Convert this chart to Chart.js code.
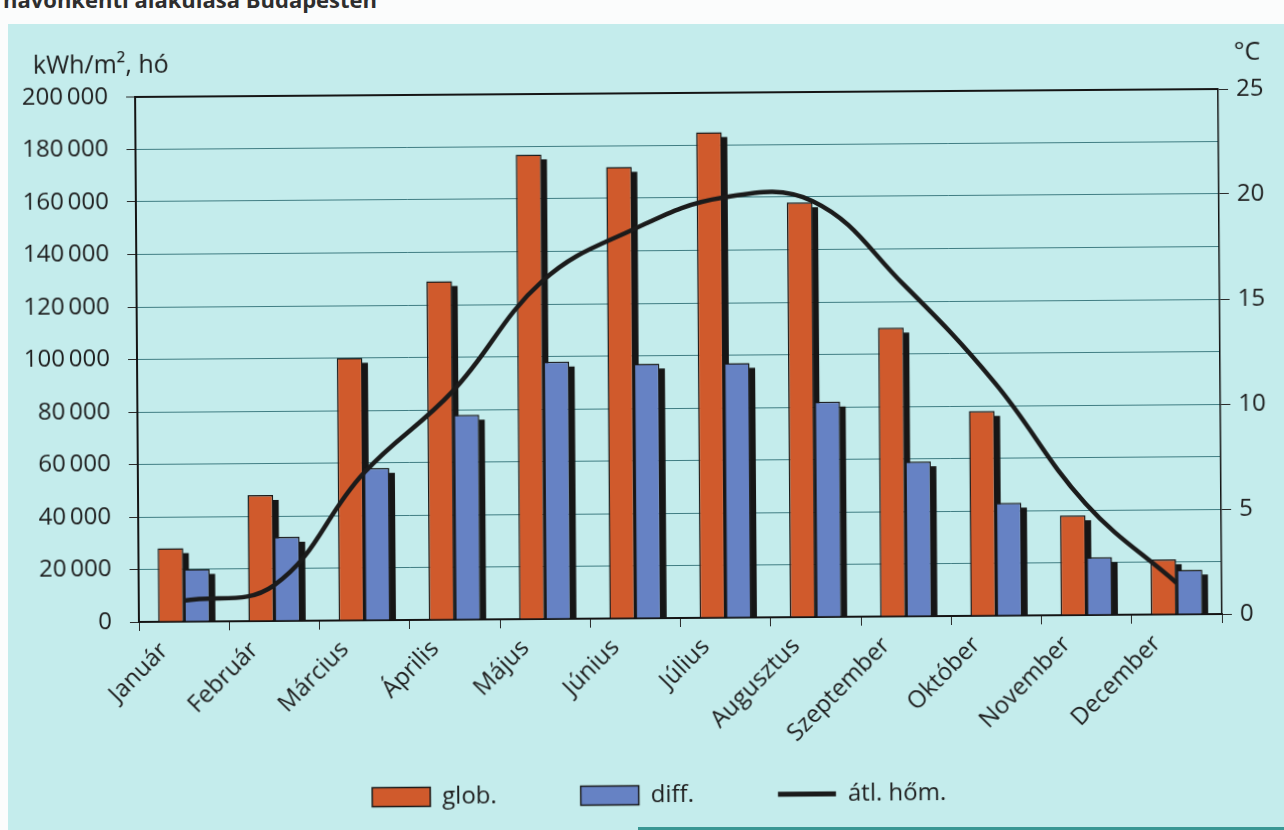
<!DOCTYPE html>
<html lang="hu">
<head>
<meta charset="utf-8">
<title>Napsugárzás és hőmérséklet havonkénti alakulása Budapesten</title>
<script src="https://cdn.jsdelivr.net/npm/chart.js@4.4.1/dist/chart.umd.min.js"></script>
<style>
  html, body { margin: 0; padding: 0; background: #fbfcfc; }
  body { width: 1284px; height: 830px; position: relative; overflow: hidden; }
  .heading {
    position: absolute; left: 3px; top: -12px; margin: 0;
    font: bold 22px "Open Sans", sans-serif; line-height: 22px; color: #2e2e2e;
    white-space: nowrap;
  }
  .panel {
    position: absolute; left: 8px; top: 24px; right: 0; bottom: 0;
    background: #c4ecec;
  }
  .panel-edge {
    position: absolute; left: 630px; right: 0; bottom: 0; height: 3px;
    background: #3a9794;
  }
  #chart {
    position: absolute; left: 0; top: 0;
    transform: rotate(-0.42deg); transform-origin: 678px 355px;
  }
</style>
</head>
<body>
<div class="heading">havonkénti alakulása Budapesten</div>
<div class="panel"><div class="panel-edge"></div></div>
<canvas id="chart" width="1318" height="830"></canvas>
<script>
// Havi adatok
const months = ['Január', 'Február', 'Március', 'Április', 'Május', 'Június',
                'Július', 'Augusztus', 'Szeptember', 'Október', 'November', 'December'];
// globális sugárzás, kWh/m², hó
const globRadiation = [28000, 48000, 100000, 129000, 177000, 172000,
                       185000, 158000, 110000, 78000, 38000, 21000];
// diffúz sugárzás, kWh/m², hó
const diffRadiation = [20000, 32000, 58000, 78000, 98000, 97000,
                       97000, 82000, 59000, 43000, 22000, 17000];
// átlagos havi hőmérséklet, °C
const avgTemperature = [1.0, 1.7, 7.0, 10.9, 16.1, 18.5,
                        20.0, 19.8, 15.8, 11.1, 5.3, 1.5];
// tengelyfeliratok
const radiationTicks = [0, 20000, 40000, 60000, 80000, 100000, 120000, 140000, 160000, 180000, 200000];
const temperatureTicks = [0, 5, 10, 15, 20, 25];
const legendNames = ['glob.', 'diff.', 'átl. hőm.'];

const FONT = '"Open Sans", "Noto Sans", sans-serif';
const INK = '#1d1d1d';
const FS = 24;

// frame of the plot: area 137..1220 horizontally, 93..618 vertically
const CANVAS_W = 1318, CANVAS_H = 830;
const AREA_LEFT = 137, AREA_RIGHT = 1220, AREA_BOTTOM = 618;
const PAD_L = 10, PAD_R = 16, PAD_T = 93, PAD_B = 10;
const LEGEND_PAD = 84, LEGEND_H = 30, LEGEND_Y = 795;

function formatThousands(v) {
  if (v === 0) return '0';
  return String(Math.round(v / 1000)) + '\u2009000';
}

// dark drop shadow on the right of every bar
const barShadow = {
  id: 'barShadow',
  beforeDatasetsDraw(chart) {
    const ctx = chart.ctx;
    ctx.save();
    ctx.fillStyle = '#161616';
    chart.data.datasets.forEach((ds, i) => {
      const meta = chart.getDatasetMeta(i);
      if (meta.type !== 'bar' || meta.hidden) return;
      meta.data.forEach(bar => {
        const p = bar.getProps(['x', 'y', 'width', 'base'], true);
        const right = p.x + p.width / 2;
        ctx.fillRect(right - 0.5, p.y + 5, 6, p.base - p.y - 5);
      });
    });
    ctx.restore();
  }
};

// the legend row sits below the month names
const legendRow = {
  id: 'legendRow',
  afterLayout(chart) {
    const lg = chart.legend;
    if (!lg) return;
    lg.top = LEGEND_Y - FS / 2 - LEGEND_PAD;
    lg.bottom = lg.top + LEGEND_PAD + FS + 12;
    lg.height = lg.bottom - lg.top;
  }
};

// unit captions above both value axes
const unitCaptions = {
  id: 'unitCaptions',
  afterDraw(chart) {
    const { ctx, chartArea } = chart;
    ctx.save();
    ctx.fillStyle = INK;
    ctx.font = '25px ' + FONT;
    ctx.textBaseline = 'middle';
    ctx.textAlign = 'left';
    ctx.fillText('kWh/m², hó', chartArea.left - 102, chartArea.top - 31);
    ctx.fillText('°C', chartArea.right + 16, chartArea.top - 36);
    ctx.restore();
  }
};

new Chart(document.getElementById('chart'), {
  data: {
    labels: months,
    datasets: [
      {
        type: 'bar', label: legendNames[0], data: globRadiation, yAxisID: 'y', order: 1,
        backgroundColor: '#d05a2c', borderColor: '#1a1a1a', borderWidth: 1.5,
        categoryPercentage: 0.58, barPercentage: 0.98
      },
      {
        type: 'bar', label: legendNames[1], data: diffRadiation, yAxisID: 'y', order: 1,
        backgroundColor: '#6682c4', borderColor: '#1a1a1a', borderWidth: 1.5,
        categoryPercentage: 0.58, barPercentage: 0.98
      },
      {
        type: 'line', label: legendNames[2], data: avgTemperature, yAxisID: 'y1', order: 0,
        borderColor: '#1b1b1b', backgroundColor: '#1b1b1b', borderWidth: 4.5,
        tension: 0.4, pointRadius: 0, pointHoverRadius: 0, fill: false
      }
    ]
  },
  options: {
    responsive: false,
    animation: false,
    devicePixelRatio: 1,
    layout: { padding: { left: PAD_L, right: PAD_R, top: PAD_T, bottom: PAD_B } },
    plugins: {
      tooltip: { enabled: false },
      legend: {
        position: 'bottom',
        maxHeight: LEGEND_H,
        labels: {
          color: INK,
          font: { family: FONT, size: FS },
          usePointStyle: true,
          pointStyleWidth: 58,
          boxHeight: 19,
          padding: LEGEND_PAD,
          sort: (a, b) => a.datasetIndex - b.datasetIndex,
          generateLabels(chart) {
            const items = Chart.defaults.plugins.legend.labels.generateLabels(chart);
            items.forEach(it => {
              const ds = chart.data.datasets[it.datasetIndex];
              if (ds.type === 'line') {
                it.pointStyle = 'line';
                it.lineWidth = 5;
                it.strokeStyle = '#1b1b1b';
              } else {
                it.pointStyle = 'rect';
                it.lineWidth = 1.5;
                it.strokeStyle = '#1a1a1a';
                it.fillStyle = ds.backgroundColor;
              }
            });
            return items;
          }
        }
      }
    },
    scales: {
      x: {
        type: 'category',
        afterFit(scale) { scale.height = (CANVAS_H - PAD_B - LEGEND_H) - AREA_BOTTOM; },
        grid: {
          offset: true, drawOnChartArea: false, drawTicks: true,
          tickLength: 9, color: '#2a2a2a', lineWidth: 1
        },
        border: { display: true, color: '#141414', width: 2 },
        ticks: {
          color: INK, font: { family: FONT, size: FS },
          maxRotation: 45, minRotation: 45, padding: 6, labelOffset: -20, autoSkip: false
        }
      },
      y: {
        position: 'left',
        min: 0, max: 200000,
        afterFit(scale) { scale.width = AREA_LEFT - PAD_L; },
        afterBuildTicks(scale) { scale.ticks = radiationTicks.map(v => ({ value: v })); },
        grid: {
          color: c => c.tick && c.tick.value === 200000 ? '#151515' : 'rgba(40,105,112,0.85)',
          lineWidth: c => c.tick && c.tick.value === 200000 ? 2 : 1,
          tickColor: '#2a2a2a', tickLength: 9, tickWidth: 1
        },
        border: { display: true, color: '#141414', width: 2 },
        ticks: {
          color: INK, font: { family: FONT, size: FS }, padding: 18,
          callback: v => formatThousands(v)
        }
      },
      y1: {
        position: 'right',
        min: 0, max: 25,
        afterFit(scale) { scale.width = (CANVAS_W - PAD_R) - AREA_RIGHT; },
        afterBuildTicks(scale) { scale.ticks = temperatureTicks.map(v => ({ value: v })); },
        grid: { drawOnChartArea: false, tickLength: 10, color: '#2a2a2a', lineWidth: 1 },
        border: { display: true, color: '#141414', width: 1.5 },
        ticks: {
          color: INK, font: { family: FONT, size: FS }, padding: 8,
          callback: v => String(v)
        }
      }
    }
  },
  plugins: [barShadow, legendRow, unitCaptions]
});
</script>
</body>
</html>
